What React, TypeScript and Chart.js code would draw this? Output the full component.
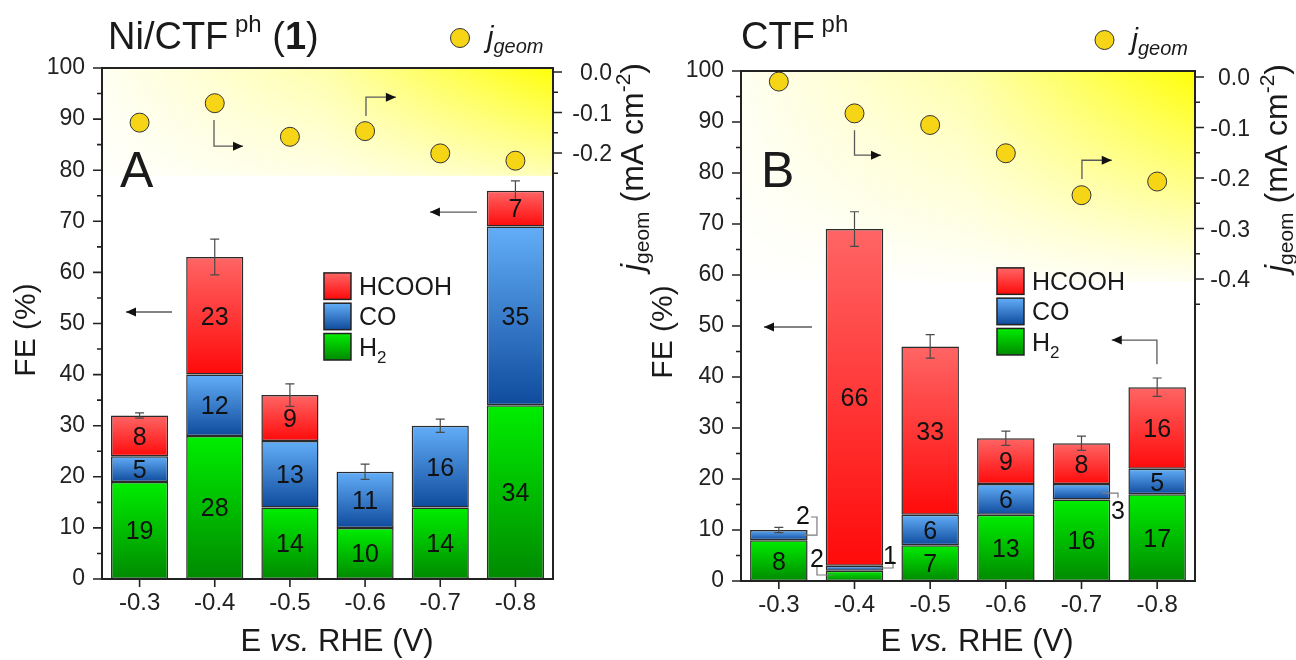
import React, { useEffect, useRef } from "react";
import { Chart, registerables } from "chart.js";

Chart.register(...registerables);

const FONT = "'Liberation Sans', Arial, Helvetica, sans-serif";
const INK = "#1a1a1a";

// Electrode potential, V vs. RHE
const potentials = ["-0.3", "-0.4", "-0.5", "-0.6", "-0.7", "-0.8"];

// Faradaic efficiencies (%) for Ni/CTF-ph (1)
const niH2 = [19, 28, 14, 10, 14, 34];
const niCO = [5, 12, 13, 11, 16, 35];
const niHCOOH = [8, 23, 9, 0, 0, 7];
const niTotalErr = [0.5, 3.5, 2.2, 1.5, 1.3, 1.9];
// Geometric current density (mA cm^-2) for Ni/CTF-ph (1)
const niJgeom = [-0.125, -0.077, -0.16, -0.146, -0.201, -0.219];

// Faradaic efficiencies (%) for CTF-ph
const ctfH2 = [8, 2, 7, 13, 16, 17];
const ctfCO = [2, 1, 6, 6, 3, 5];
const ctfHCOOH = [0, 66, 33, 9, 8, 16];
const ctfTotalErr = [0.5, 3.4, 2.3, 1.4, 1.4, 1.8];
// Geometric current density (mA cm^-2) for CTF-ph
const ctfJgeom = [-0.009, -0.072, -0.095, -0.151, -0.234, -0.207];

// Axis ticks
const feTicks = [0, 10, 20, 30, 40, 50, 60, 70, 80, 90, 100];
const jTicksNi = [0, -0.1, -0.2];
const jTicksCtf = [0, -0.1, -0.2, -0.3, -0.4];

const productNames = ["H2", "CO", "HCOOH"];
// top / bottom colours of each product's vertical gradient
const productColors: Record<string, [string, string]> = {
  H2: ["#00ee00", "#008a00"],
  CO: ["#63aef8", "#0f4b9d"],
  HCOOH: ["#ff6565", "#ff0a0a"],
};

type Part = { t: string; size: number; italic?: boolean; bold?: boolean; dy?: number };
type Pt = [number, number];
type Callout = { series: number; index: number; text: Pt; path: Pt[] };

type PanelSpec = {
  key: string;
  canvasLeft: number;
  width: number;
  plot: { left: number; right: number; top: number; bottom: number };
  title: Part[];
  titleAt: Pt;
  letter: string;
  letterAt: Pt;
  h2: number[];
  co: number[];
  hcooh: number[];
  err: number[];
  jgeom: number[];
  jTicks: number[];
  jMinorEnd: number;
  jRange: [number, number];
  jLabelRight: number;
  glowTo: number;
  glowFade: number;
  legendAt: Pt;
  jLegendAt: Pt;
  feTitleAt: Pt;
  jTitleAt: Pt;
  eTitleAt: Pt;
  arrows: Pt[][];
  callouts: Callout[];
};

const panels: PanelSpec[] = [
  {
    key: "ni",
    canvasLeft: 0,
    width: 660,
    plot: { left: 102, right: 553, top: 68, bottom: 579 },
    title: [
      { t: "Ni/CTF", size: 38 },
      { t: " ph", size: 24, dy: -17 },
      { t: " (", size: 38 },
      { t: "1", size: 38, bold: true },
      { t: ")", size: 38 },
    ],
    titleAt: [108, 49],
    letter: "A",
    letterAt: [-0.26, 76.7],
    h2: niH2,
    co: niCO,
    hcooh: niHCOOH,
    err: niTotalErr,
    jgeom: niJgeom,
    jTicks: jTicksNi,
    jMinorEnd: -0.25,
    jRange: [-1.252, 0.0099],
    jLabelRight: 59,
    glowTo: 79,
    glowFade: 0.7,
    legendAt: [2.453, 59.9],
    jLegendAt: [460, 38],
    feTitleAt: [24, 330],
    jTitleAt: [632, 167],
    eTitleAt: [337, 651],
    arrows: [
      [[0.431, 52.25], [-0.181, 52.25]],
      [[4.489, 71.8], [3.863, 71.8]],
      [[0.99, 89.8], [0.99, 84.7], [1.376, 84.7]],
      [[3.012, 90.6], [3.012, 94.3], [3.41, 94.3]],
    ],
    callouts: [],
  },
  {
    key: "ctf",
    canvasLeft: 640,
    width: 656,
    plot: { left: 101, right: 555, top: 71, bottom: 581 },
    title: [
      { t: "CTF", size: 38 },
      { t: " ph", size: 24, dy: -17 },
    ],
    titleAt: [101, 49],
    letter: "B",
    letterAt: [-0.236, 77.25],
    h2: ctfH2,
    co: ctfCO,
    hcooh: ctfHCOOH,
    err: ctfTotalErr,
    jgeom: ctfJgeom,
    jTicks: jTicksCtf,
    jMinorEnd: -0.45,
    jRange: [-0.998, 0.0119],
    jLabelRight: 55,
    glowTo: 59,
    glowFade: 0.95,
    legendAt: [2.883, 61.4],
    jLegendAt: [464.5, 40],
    feTitleAt: [21, 332],
    jTitleAt: [636, 168],
    eTitleAt: [337, 651],
    arrows: [
      [[1.0, 88.4], [1.0, 83.5], [1.35, 83.5]],
      [[4.006, 78.8], [4.006, 82.5], [4.4, 82.5]],
      [[0.438, 49.8], [-0.196, 49.8]],
      [[4.997, 42.5], [4.997, 47.25], [4.4, 47.25]],
    ],
    callouts: [
      { series: 1, index: 0, text: [0.319, 12.9], path: [[0.319, 9.0], [0.504, 9.0], [0.504, 12.55], [0.425, 12.55]] },
      { series: 0, index: 1, text: [0.504, 4.5], path: [[0.504, 2.75], [0.504, 1.18], [0.716, 1.18]] },
      { series: 1, index: 1, text: [1.469, 5.1], path: [[1.297, 2.55], [1.509, 2.55], [1.509, 3.9]] },
      { series: 1, index: 4, text: [4.482, 13.9], path: [[4.271, 17.25], [4.482, 17.25], [4.482, 16.3]] },
    ],
  },
];

function fontOf(p: Part) {
  return `${p.italic ? "italic " : ""}${p.bold ? "bold " : ""}${p.size}px ${FONT}`;
}

function richWidth(ctx: CanvasRenderingContext2D, parts: Part[]) {
  let w = 0;
  for (const p of parts) {
    ctx.font = fontOf(p);
    w += ctx.measureText(p.t).width;
  }
  return w;
}

function drawRich(ctx: CanvasRenderingContext2D, parts: Part[], x: number, y: number, align: "left" | "center" = "left") {
  let cx = align === "center" ? x - richWidth(ctx, parts) / 2 : x;
  ctx.textAlign = "left";
  ctx.textBaseline = "alphabetic";
  ctx.fillStyle = INK;
  for (const p of parts) {
    ctx.font = fontOf(p);
    ctx.fillText(p.t, cx, y + (p.dy || 0));
    cx += ctx.measureText(p.t).width;
  }
}

function drawArrow(ctx: CanvasRenderingContext2D, pts: Pt[]) {
  ctx.save();
  ctx.strokeStyle = "#5a5a5a";
  ctx.lineWidth = 1.3;
  ctx.beginPath();
  ctx.moveTo(pts[0][0], pts[0][1]);
  for (let i = 1; i < pts.length; i++) ctx.lineTo(pts[i][0], pts[i][1]);
  ctx.stroke();
  const [x1, y1] = pts[pts.length - 2];
  const [x2, y2] = pts[pts.length - 1];
  const a = Math.atan2(y2 - y1, x2 - x1);
  const L = 10;
  const W = 4.5;
  const c = Math.cos(a);
  const s = Math.sin(a);
  ctx.fillStyle = "#111";
  ctx.beginPath();
  ctx.moveTo(x2, y2);
  ctx.lineTo(x2 - L * c + W * s, y2 - L * s - W * c);
  ctx.lineTo(x2 - L * c - W * s, y2 - L * s + W * c);
  ctx.closePath();
  ctx.fill();
  ctx.restore();
}

function gradientRect(ctx: CanvasRenderingContext2D, name: string, x: number, y: number, w: number, h: number) {
  const [topC, botC] = productColors[name];
  const g = ctx.createLinearGradient(0, y, 0, y + h);
  g.addColorStop(0, topC);
  g.addColorStop(1, botC);
  ctx.fillStyle = g;
  ctx.fillRect(x, y, w, h);
  ctx.strokeStyle = "#222";
  ctx.lineWidth = 1.5;
  ctx.strokeRect(x, y, w, h);
}

function buildChart(canvas: HTMLCanvasElement, spec: PanelSpec) {
  const series = [spec.h2, spec.co, spec.hcooh];
  const H = 660;
  const cumBelow = (s: number, i: number) => {
    let c = 0;
    for (let k = 0; k < s; k++) c += series[k][i];
    return c;
  };
  const totals = potentials.map((_, i) => cumBelow(3, i));

  const fillFor = (s: number) => (c: any) => {
    const [topC, botC] = productColors[productNames[s]];
    const chart = c.chart;
    const ys = chart.scales && chart.scales.y;
    if (c.type !== "data" || !ys) return botC;
    const i = c.dataIndex;
    const b = cumBelow(s, i);
    const yTop = ys.getPixelForValue(b + series[s][i]);
    const yBot = ys.getPixelForValue(b);
    if (!isFinite(yTop) || !isFinite(yBot) || yBot - yTop < 1) return botC;
    const g = chart.ctx.createLinearGradient(0, yTop, 0, yBot);
    g.addColorStop(0, topC);
    g.addColorStop(1, botC);
    return g;
  };

  const P = (chart: any, p: Pt): Pt => [chart.scales.x.getPixelForValue(p[0]), chart.scales.y.getPixelForValue(p[1])];

  const decor = {
    id: "panelDecor",
    beforeDatasetsDraw(chart: any) {
      const ctx: CanvasRenderingContext2D = chart.ctx;
      const { left, right, top } = chart.chartArea;
      const yEnd = chart.scales.y.getPixelForValue(spec.glowTo);
      const w = right - left;
      const h = yEnd - top;
      ctx.save();
      const gx = ctx.createLinearGradient(left, 0, right, 0);
      gx.addColorStop(0, "rgba(255,255,0,0.05)");
      gx.addColorStop(0.5, "rgba(255,255,0,0.33)");
      gx.addColorStop(1, "rgba(255,255,0,0.97)");
      ctx.fillStyle = gx;
      ctx.fillRect(left, top, w, h);
      const gy = ctx.createLinearGradient(0, top, 0, yEnd);
      gy.addColorStop(0, "rgba(255,255,255,0)");
      gy.addColorStop(1, `rgba(255,255,255,${spec.glowFade})`);
      ctx.fillStyle = gy;
      ctx.fillRect(left, top, w, h);
      ctx.restore();
    },
    afterDatasetsDraw(chart: any) {
      const ctx: CanvasRenderingContext2D = chart.ctx;
      const xs = chart.scales.x;
      const ys = chart.scales.y;
      ctx.save();
      // error bars on the summed efficiency
      ctx.strokeStyle = "#4a4a4a";
      ctx.lineWidth = 1.2;
      totals.forEach((t, i) => {
        const x = xs.getPixelForValue(i);
        const yHi = ys.getPixelForValue(t + spec.err[i]);
        const yLo = ys.getPixelForValue(t - spec.err[i]);
        ctx.beginPath();
        ctx.moveTo(x, yHi);
        ctx.lineTo(x, yLo);
        ctx.moveTo(x - 4.5, yHi);
        ctx.lineTo(x + 4.5, yHi);
        ctx.moveTo(x - 4.5, yLo);
        ctx.lineTo(x + 4.5, yLo);
        ctx.stroke();
      });
      // values inside the segments
      const size = 25;
      ctx.font = `${size}px ${FONT}`;
      ctx.fillStyle = "#111";
      ctx.textAlign = "center";
      ctx.textBaseline = "alphabetic";
      series.forEach((vals, s) => {
        vals.forEach((v, i) => {
          if (v < 4) return;
          const y = ys.getPixelForValue(cumBelow(s, i) + v / 2);
          ctx.fillText(String(v), xs.getPixelForValue(i), y + size * 0.358);
        });
      });
      // small segments labelled outside with a leader
      spec.callouts.forEach((c) => {
        ctx.strokeStyle = "#7a7a7a";
        ctx.lineWidth = 1.2;
        ctx.beginPath();
        c.path.forEach((p, k) => {
          const [px, py] = P(chart, p);
          if (k === 0) ctx.moveTo(px, py);
          else ctx.lineTo(px, py);
        });
        ctx.stroke();
        const [tx, ty] = P(chart, c.text);
        ctx.fillStyle = "#111";
        ctx.fillText(String(series[c.series][c.index]), tx, ty + size * 0.358);
      });
      ctx.restore();
    },
    afterDraw(chart: any) {
      const ctx: CanvasRenderingContext2D = chart.ctx;
      const xs = chart.scales.x;
      const ys = chart.scales.y;
      const y1 = chart.scales.y1;
      const { left, right, top, bottom } = chart.chartArea;
      ctx.save();
      // frame
      ctx.strokeStyle = "#222";
      ctx.lineWidth = 2;
      ctx.strokeRect(left, top, right - left, bottom - top);
      // ticks
      ctx.lineWidth = 1.6;
      ctx.beginPath();
      for (let v = 0; v <= 100; v += 5) {
        const y = ys.getPixelForValue(v);
        const len = v % 10 === 0 ? 9 : 5;
        ctx.moveTo(left - len, y);
        ctx.lineTo(left, y);
      }
      const steps = Math.round(-spec.jMinorEnd / 0.05);
      for (let k = 0; k <= steps; k++) {
        const y = y1.getPixelForValue(-k * 0.05);
        const len = k % 2 === 0 ? 9 : 5;
        ctx.moveTo(right, y);
        ctx.lineTo(right + len, y);
      }
      potentials.forEach((_, i) => {
        const x = xs.getPixelForValue(i);
        ctx.moveTo(x, bottom);
        ctx.lineTo(x, bottom + 8);
      });
      ctx.stroke();

      // right-axis tick labels, right aligned
      ctx.font = `23px ${FONT}`;
      ctx.fillStyle = "#222";
      ctx.textAlign = "right";
      ctx.textBaseline = "alphabetic";
      spec.jTicks.forEach((v) => {
        ctx.fillText(v.toFixed(1), right + spec.jLabelRight, y1.getPixelForValue(v) + 23 * 0.358);
      });

      // arrows pointing to the relevant axis
      spec.arrows.forEach((a) => drawArrow(ctx, a.map((p) => P(chart, p))));

      // panel letter
      const [lx, ly] = P(chart, spec.letterAt);
      drawRich(ctx, [{ t: spec.letter, size: 50 }], lx, ly);

      // product legend
      const [gx0, gy0] = P(chart, spec.legendAt);
      const rows: [string, Part[]][] = [
        ["HCOOH", [{ t: "HCOOH", size: 25 }]],
        ["CO", [{ t: "CO", size: 25 }]],
        ["H2", [{ t: "H", size: 25 }, { t: "2", size: 17, dy: 7 }]],
      ];
      rows.forEach(([name, parts], k) => {
        const ry = gy0 + k * 30.3;
        gradientRect(ctx, name, gx0, ry, 27, 26.5);
        drawRich(ctx, parts, gx0 + 35, ry + 13.2 + 9);
      });

      // current density legend
      const [jx, jy] = spec.jLegendAt;
      ctx.beginPath();
      ctx.arc(jx, jy, 9.5, 0, Math.PI * 2);
      ctx.fillStyle = "#f6d416";
      ctx.fill();
      ctx.strokeStyle = "#333";
      ctx.lineWidth = 1;
      ctx.stroke();
      drawRich(ctx, [{ t: "j", size: 29, italic: true }, { t: "geom", size: 20, italic: true, dy: 6 }], jx + 27, jy + 9);

      // titles
      drawRich(ctx, spec.title, spec.titleAt[0], spec.titleAt[1]);
      drawRich(
        ctx,
        [{ t: "E ", size: 31 }, { t: "vs.", size: 31, italic: true }, { t: " RHE (V)", size: 31 }],
        spec.eTitleAt[0],
        spec.eTitleAt[1],
        "center"
      );
      ctx.save();
      ctx.translate(spec.feTitleAt[0], spec.feTitleAt[1]);
      ctx.rotate(-Math.PI / 2);
      drawRich(ctx, [{ t: "FE (%)", size: 30 }], 0, 30 * 0.358, "center");
      ctx.restore();
      ctx.save();
      ctx.translate(spec.jTitleAt[0], spec.jTitleAt[1]);
      ctx.rotate(-Math.PI / 2);
      drawRich(
        ctx,
        [
          { t: "j", size: 32, italic: true },
          { t: "geom", size: 21, dy: 6 },
          { t: " (mA cm", size: 32 },
          { t: "-2", size: 21, dy: -13 },
          { t: ")", size: 32 },
        ],
        0,
        32 * 0.358,
        "center"
      );
      ctx.restore();
      ctx.restore();
    },
  };

  const bars = series.map((vals, s) => ({
    type: "bar" as const,
    label: productNames[s],
    data: vals.map((v) => (v === 0 ? null : v)),
    yAxisID: "y",
    stack: "fe",
    order: 2,
    backgroundColor: fillFor(s),
    borderColor: "#2b2b2b",
    borderWidth: 1.5,
    borderSkipped: false,
    barPercentage: 0.76,
    categoryPercentage: 1,
  }));

  const points = {
    type: "line" as const,
    label: "jgeom",
    data: spec.jgeom,
    yAxisID: "y1",
    order: 0,
    showLine: false,
    clip: false,
    pointRadius: 9.5,
    pointHoverRadius: 9.5,
    pointBackgroundColor: "#f6d416",
    pointBorderColor: "#333",
    pointBorderWidth: 1,
  };

  const tickFont = (size: number) => ({ family: FONT, size });

  return new Chart(canvas, {
    type: "bar",
    data: { labels: potentials, datasets: [...bars, points] as any },
    options: {
      responsive: false,
      animation: false,
      events: [],
      layout: { padding: { top: spec.plot.top, left: 0, right: 0, bottom: 0 } },
      plugins: { legend: { display: false }, tooltip: { enabled: false } },
      scales: {
        x: {
          type: "category",
          stacked: true,
          offset: true,
          grid: { display: false, tickLength: 8 },
          border: { display: false },
          ticks: { font: tickFont(24), color: "#222", padding: 2, maxRotation: 0, autoSkip: false },
          afterFit: (s: any) => {
            s.height = H - spec.plot.bottom;
          },
        },
        y: {
          type: "linear",
          position: "left",
          stacked: true,
          min: 0,
          max: 100,
          bounds: "data",
          grid: { display: false, tickLength: 9 },
          border: { display: false },
          ticks: { font: tickFont(23), color: "#222", padding: 8 },
          afterBuildTicks: (s: any) => {
            s.ticks = feTicks.map((v) => ({ value: v }));
          },
          afterFit: (s: any) => {
            s.width = spec.plot.left;
          },
        },
        y1: {
          type: "linear",
          position: "right",
          min: spec.jRange[0],
          max: spec.jRange[1],
          bounds: "data",
          grid: { display: false },
          border: { display: false },
          ticks: { display: false },
          afterBuildTicks: (s: any) => {
            s.ticks = spec.jTicks.map((v) => ({ value: v }));
          },
          afterFit: (s: any) => {
            s.width = spec.width - spec.plot.right;
          },
        },
      },
    } as any,
    plugins: [decor],
  });
}

function Panel({ spec }: { spec: PanelSpec }) {
  const ref = useRef<HTMLCanvasElement>(null);
  useEffect(() => {
    if (!ref.current) return;
    const chart = buildChart(ref.current, spec);
    return () => chart.destroy();
  }, [spec]);
  return (
    <canvas
      ref={ref}
      width={spec.width}
      height={660}
      style={{ position: "absolute", left: spec.canvasLeft, top: 0, width: spec.width, height: 660 }}
    />
  );
}

export default function App() {
  return (
    <div style={{ position: "fixed", left: 0, top: 0, width: 1296, height: 660, background: "#fff", overflow: "hidden" }}>
      {panels.map((p) => (
        <Panel key={p.key} spec={p} />
      ))}
    </div>
  );
}
